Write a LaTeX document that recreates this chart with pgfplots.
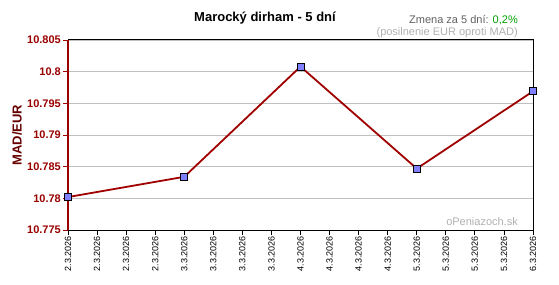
\documentclass[border=0pt]{standalone}
\usepackage{pgfplots}
\pgfplotsset{compat=1.18}
\usepackage{fontspec}
\setmainfont{Liberation Sans}
\definecolor{dred}{HTML}{990000}
\definecolor{lred}{HTML}{A00000}
\definecolor{ylab}{HTML}{660000}
\definecolor{mfill}{HTML}{8080FF}
\definecolor{gridgray}{HTML}{C0C0C0}
\definecolor{tgray}{HTML}{606060}
\definecolor{lgray}{HTML}{B0B0B0}
\definecolor{dgreen}{HTML}{00A000}
\begin{document}
\begin{tikzpicture}[x=1pt,y=1pt]
\useasboundingbox (0,0) rectangle (559,284);
\begin{axis}[
  at={(68pt,54pt)}, anchor=south west,
  scale only axis, width=465pt, height=190pt,
  xmin=0, xmax=16, ymin=10.775, ymax=10.805,
  xtick={0,...,16},
  xticklabels={2.3.2026,2.3.2026,2.3.2026,2.3.2026,3.3.2026,3.3.2026,3.3.2026,3.3.2026,4.3.2026,4.3.2026,4.3.2026,4.3.2026,5.3.2026,5.3.2026,5.3.2026,5.3.2026,6.3.2026},
  ytick={10.775,10.78,10.785,10.79,10.795,10.8,10.805},
  yticklabels={10.775,10.78,10.785,10.79,10.795,10.8,10.805},
  x tick label style={rotate=90, anchor=east, font=\fontsize{9}{10}\selectfont, text=black, inner sep=1pt},
  y tick label style={font=\fontsize{11}{12}\selectfont\bfseries, text=dred, inner sep=2pt},
  xtick pos=left, ytick pos=left,
  tick align=outside, major tick length=5pt,
  x tick style={black, line width=0.8pt},
  y tick style={dred, line width=0.8pt},
  ymajorgrids, grid style={gridgray, line width=0.8pt},
  axis line style={black, line width=1pt},
  clip=false,
]
\addplot[lred, line width=1.8pt, mark=square*, mark size=3.5pt,
  mark options={fill=mfill, draw=black, line width=0.8pt, solid}]
  coordinates {(0,10.7802) (4,10.7834) (8,10.8008) (12,10.7847) (16,10.7969)};
\draw[dred, line width=1.2pt] (rel axis cs:0,0) -- (rel axis cs:0,1);
\end{axis}
\node[font=\fontsize{13}{15}\selectfont\bfseries] at (265,266) {Marocký dirham - 5 dní};
\node[anchor=east, font=\fontsize{11}{13}\selectfont, text=tgray, inner sep=0pt] at (518,264) {Zmena za 5 dní: \textcolor{dgreen}{0,2\%}};
\node[anchor=east, font=\fontsize{11}{13}\selectfont, text=lgray, inner sep=0pt] at (518,251) {(posilnenie EUR oproti MAD)};
\node[anchor=east, font=\fontsize{11}{13}\selectfont, text=lgray, inner sep=0pt] at (518,62) {oPeniazoch.sk};
\node[rotate=90, font=\fontsize{13}{15}\selectfont\bfseries, text=ylab] at (17,149) {MAD/EUR};
\end{tikzpicture}
\end{document}
